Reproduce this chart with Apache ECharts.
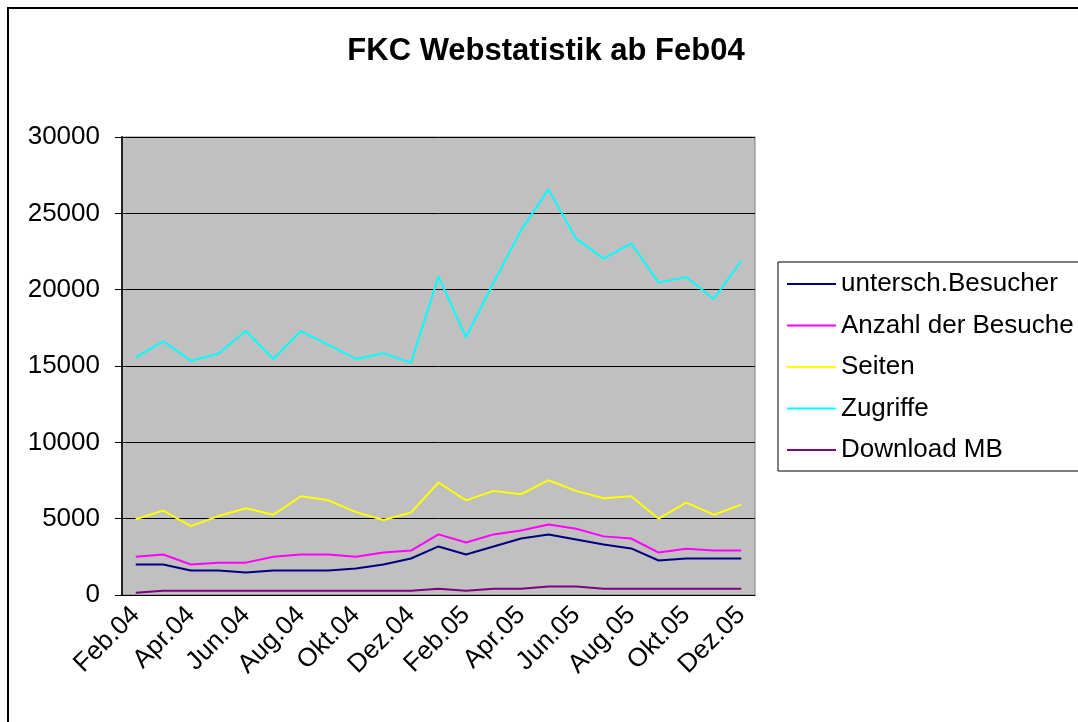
<!DOCTYPE html>
<html>
<head>
<meta charset="utf-8">
<script src="https://cdn.jsdelivr.net/npm/echarts@6/dist/echarts.min.js"></script>
<style>
  html, body { margin: 0; padding: 0; background: #fff; }
  #chart { width: 1078px; height: 722px; }
</style>
</head>
<body>
<div id="chart"></div>
<script>
// Monate Feb.04 bis Dez.05
var months = ['Feb.04', 'Mrz.04', 'Apr.04', 'Mai.04', 'Jun.04', 'Jul.04', 'Aug.04', 'Sep.04', 'Okt.04', 'Nov.04', 'Dez.04', 'Jan.05',
    'Feb.05', 'Mrz.05', 'Apr.05', 'Mai.05', 'Jun.05', 'Jul.05', 'Aug.05', 'Sep.05', 'Okt.05', 'Nov.05', 'Dez.05']
var besucher = [2000, 2000, 1600, 1600, 1470, 1600, 1600, 1600, 1730, 2000, 2390, 3180,
    2650, 3180, 3700, 3970, 3640, 3310, 3050, 2260, 2390, 2390, 2390]
var besuche = [2500, 2650, 2000, 2120, 2120, 2500, 2650, 2650, 2500, 2780, 2910, 3970,
    3440, 3970, 4230, 4620, 4340, 3840, 3700, 2780, 3030, 2910, 2910]
var seiten = [4960, 5530, 4510, 5170, 5680, 5260, 6470, 6200, 5430, 4910, 5400, 7370,
    6200, 6820, 6600, 7520, 6820, 6340, 6470, 5000, 6050, 5260, 5920]
var zugriffe = [15570, 16620, 15350, 15800, 17290, 15460, 17290, 16380, 15460, 15830, 15220, 20850,
    16900, 20450, 23900, 26570, 23340, 22030, 23040, 20460, 20830, 19390, 21880]
var download = [150, 280, 280, 280, 280, 280, 280, 280, 280, 280, 280, 410,
    280, 410, 410, 550, 550, 410, 410, 410, 410, 410, 410]

var names = ['untersch.Besucher', 'Anzahl der Besuche', 'Seiten', 'Zugriffe', 'Download MB']
var colors = ['#000080', '#FF00FF', '#FFFF00', '#00FFFF', '#800080']
var values = [besucher, besuche, seiten, zugriffe, download]

var chart = echarts.init(document.getElementById('chart'))

var series = []
for (var i = 0; i < names.length; i++) {
    series.push({
        name: names[i],
        type: 'line',
        data: values[i],
        symbol: 'none',
        lineStyle: {color: colors[i], width: 2},
        itemStyle: {color: colors[i]},
        animation: false
    })
}

chart.setOption({
    backgroundColor: '#fff',
    textStyle: {fontFamily: 'Liberation Sans, Arial, sans-serif'},
    title: {
        text: 'FKC Webstatistik ab Feb04',
        left: 541,
        top: 31,
        textAlign: 'center',
        textStyle: {fontSize: 31, fontWeight: 'bold', color: '#000', fontFamily: 'Liberation Sans'}
    },
    // Diagrammrahmen (rechts und unten abgeschnitten)
    graphic: [{
        type: 'rect',
        shape: {x: 8, y: 8, width: 1200, height: 800},
        style: {fill: 'none', stroke: '#000', lineWidth: 2},
        silent: true
    }],
    legend: {
        orient: 'vertical',
        left: 778,
        top: 262,
        padding: [9, 120, 8, 9],
        icon: 'rect',
        itemWidth: 49,
        itemHeight: 2,
        itemGap: 15.5,
        borderColor: '#000',
        borderWidth: 1,
        backgroundColor: '#fff',
        textStyle: {fontSize: 26, color: '#000', lineHeight: 26, fontFamily: 'Liberation Sans'},
        data: names
    },
    grid: {left: 122, right: 323, top: 137, bottom: 127, show: true,
        backgroundColor: '#C0C0C0', borderColor: '#808080', borderWidth: 1},
    xAxis: {
        type: 'category',
        data: months,
        boundaryGap: true,
        axisLine: {lineStyle: {color: '#000', width: 1}},
        axisTick: {interval: 0, length: 6, lineStyle: {color: '#000'}},
        axisLabel: {interval: 1, rotate: 45, fontSize: 26, color: '#000', margin: 16,
            fontFamily: 'Liberation Sans'}
    },
    yAxis: {
        type: 'value',
        min: 0,
        max: 30000,
        interval: 5000,
        axisLine: {show: true, lineStyle: {color: '#222', width: 2}},
        axisTick: {show: true, length: 7, lineStyle: {color: '#000'}},
        axisLabel: {fontSize: 26, color: '#000', margin: 22, fontFamily: 'Liberation Sans',
            formatter: function (v) { return String(v) }},
        splitLine: {lineStyle: {color: '#000', width: 1}}
    },
    series: series
})
</script>
</body>
</html>
